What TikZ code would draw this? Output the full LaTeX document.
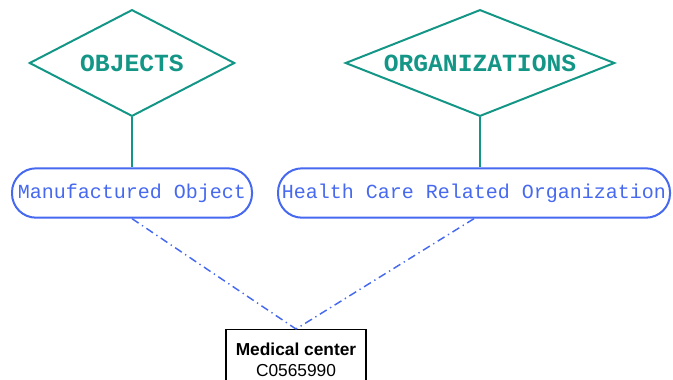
\documentclass[tikz,border=0pt]{standalone}
\usepackage{fontspec}
\setmonofont{Liberation Mono}
\setsansfont{Liberation Sans}
\usetikzlibrary{shapes.geometric}
\definecolor{semteal}{RGB}{20,150,135}
\definecolor{conblue}{RGB}{70,105,240}
\tikzset{
  semtype/.style={draw=semteal, line width=1.5pt, shape=diamond, aspect=2.5, inner sep=0pt, text=semteal, font=\fontsize{18.5}{20}\selectfont\ttfamily\bfseries},
  concept/.style={draw=conblue, line width=1.5pt, rounded corners=18pt, minimum height=37pt, inner sep=0pt, text=conblue, font=\fontsize{15}{17}\selectfont\ttfamily},
  term/.style={draw=black, line width=1.1pt, align=center, inner sep=1.5pt, minimum width=105pt, minimum height=45pt, anchor=north, font=\fontsize{13}{16}\selectfont\sffamily}
}
\begin{document}
\begin{tikzpicture}[x=0.75pt,y=-0.75pt]
\useasboundingbox (0,0) rectangle (673,379);
\clip (0,0) rectangle (673,379);
\node[semtype, minimum width=154pt, minimum height=80pt] (objects) at (132,63) {OBJECTS};
\node[semtype, minimum width=202pt, minimum height=80pt] (orgs) at (480,63) {ORGANIZATIONS};
\node[concept, minimum width=180pt] (manuf) at (132,193) {Manufactured Object};
\node[concept, minimum width=294pt] (hcorg) at (474,193) {Health Care Related Organization};
\node[term] (medctr) at (296,329) {\textbf{Medical center}\\C0565990};

\path[draw,semteal,line width=1.5pt] (objects.south) -- (manuf.north);
\path[draw,semteal,line width=1.5pt] (orgs.south) -- (hcorg.north -| orgs.south);
\path[draw,conblue,line width=1.1pt,dash pattern=on 6pt off 3pt on 1pt off 3pt] (manuf.south) -- (medctr.north);
\path[draw,conblue,line width=1.1pt,dash pattern=on 6pt off 3pt on 1pt off 3pt] (hcorg.south) -- (medctr.north);
\end{tikzpicture}
\end{document}
